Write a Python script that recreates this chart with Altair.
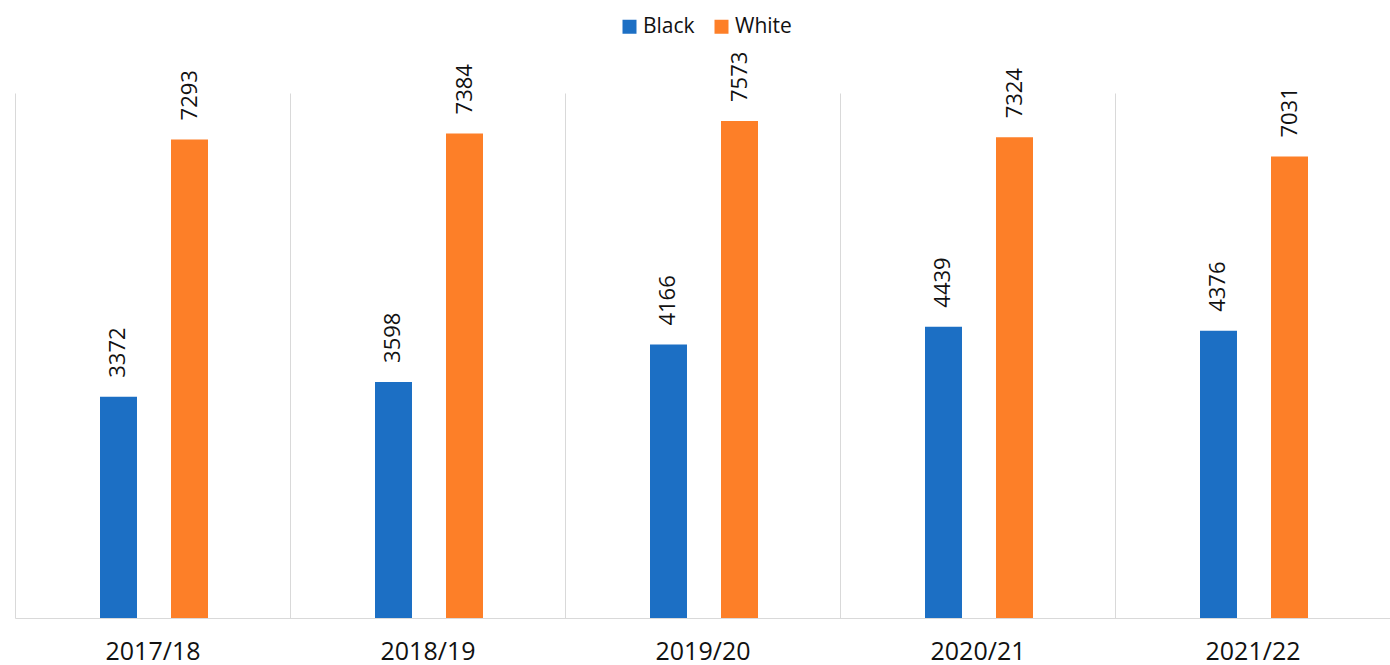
import altair as alt
import pandas as pd

# Annual counts by group
years = ["2017/18", "2018/19", "2019/20", "2020/21", "2021/22"]
black = [3372, 3598, 4166, 4439, 4376]
white = [7293, 7384, 7573, 7324, 7031]
groups = ["Black", "White"]
colors = ["#1c6fc4", "#fd7f28"]

rows = []
for i, yr in enumerate(years):
    rows.append({"year": yr, "group": "Black", "value": black[i]})
    rows.append({"year": yr, "group": "White", "value": white[i]})
df = pd.DataFrame(rows)

x = alt.X(
    "year:N",
    sort=years,
    title=None,
    scale=alt.Scale(paddingInner=0, paddingOuter=0),
    axis=alt.Axis(
        labelAngle=0,
        tickBand="extent",
        grid=True,
        ticks=False,
        domainColor="#d9d9d9",
        gridColor="#d9d9d9",
        labelFont="Open Sans",
        labelFontSize=25,
        labelColor="#111111",
        labelPadding=21,
    ),
)
# two empty slots either side keep each pair of bars narrow and centred
offset_domain = ["_l"] + groups + ["_r"]
xoff = alt.XOffset(
    "group:N",
    scale=alt.Scale(
        domain=offset_domain, paddingInner=0.479, paddingOuter=0.176, align=0.56
    ),
)
y = alt.Y("value:Q", scale=alt.Scale(domain=[0, 8000], nice=False), axis=None)

base = alt.Chart(df).encode(x=x, xOffset=xoff, y=y)

bars = base.mark_bar().encode(
    color=alt.Color(
        "group:N",
        sort=groups,
        scale=alt.Scale(domain=groups, range=colors),
        legend=alt.Legend(
            orient="none",
            legendX=604,
            legendY=-77,
            direction="horizontal",
            title=None,
            symbolType="square",
            symbolSize=196,
            symbolStrokeWidth=0,
            labelFont="Open Sans",
            labelFontSize=21,
            labelColor="#111111",
            labelOffset=3,
            columnPadding=16,
            padding=0,
        ),
    )
)

labels = base.mark_text(
    angle=270,
    align="left",
    baseline="middle",
    dx=19,
    font="Open Sans",
    fontSize=22,
    color="#111111",
).encode(text=alt.Text("value:Q", format="d"))

chart = (
    alt.layer(bars, labels)
    .properties(
        width=1375,
        height=525,
        padding={"left": 15, "top": 93, "right": 0, "bottom": 47},
        autosize=alt.AutoSizeParams(type="none"),
        background="white",
    )
    .configure_view(stroke=None)
)

chart.save("out.html", embed_options={"renderer": "svg", "actions": False})
